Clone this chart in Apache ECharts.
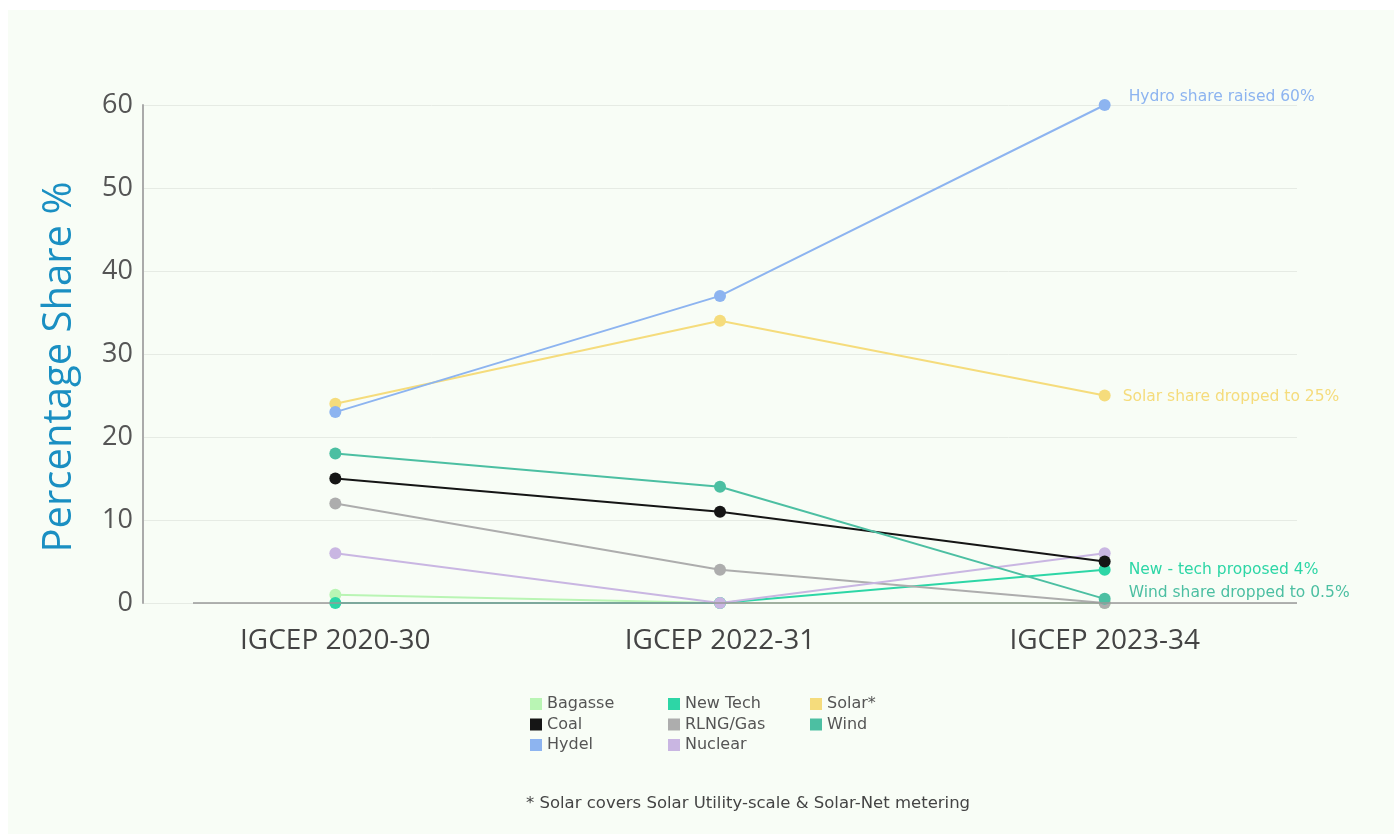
<!DOCTYPE html>
<html>
<head>
<meta charset="utf-8">
<script src="https://cdn.jsdelivr.net/npm/echarts@6/dist/echarts.min.js"></script>
<style>
html,body{margin:0;padding:0;background:#ffffff;}
#chart{width:1394px;height:834px;}
</style>
</head>
<body>
<div id="chart"></div>
<script>
const categories = ['IGCEP 2020-30', 'IGCEP 2022-31', 'IGCEP 2023-34'];
const bagasse = [1, 0, 0];
const coal = [15, 11, 5];
const hydel = [23, 37, 60];
const newTech = [0, 0, 4];
const rlng = [12, 4, 0];
const nuclear = [6, 0, 6];
const solar = [24, 34, 25];
const wind = [18, 14, 0.5];
const yTitle = 'Percentage Share %';
const footnote = '* Solar covers Solar Utility-scale & Solar-Net metering';
const colors = {
  'Bagasse':'#b9f5b4','Coal':'#151515','Hydel':'#8db4f0','New Tech':'#2dd6a6',
  'RLNG/Gas':'#adadad','Nuclear':'#c9b6e2','Solar*':'#f5dc7c','Wind':'#4cbfa2'
};
const endNotes = {
  'Hydel': {text:'Hydro share raised 60%', color:'#8db4f0', offset:[0,-8], distance:18},
  'Solar*': {text:'Solar share dropped to 25%', color:'#f5dc7c', offset:[0,1], distance:12},
  'New Tech': {text:'New - tech proposed 4%', color:'#2dd6a6', offset:[0,0], distance:18},
  'Wind': {text:'Wind share dropped to 0.5%', color:'#4cbfa2', offset:[0,-6], distance:18}
};
const values = {
  'Bagasse':bagasse,'Coal':coal,'Hydel':hydel,'New Tech':newTech,
  'RLNG/Gas':rlng,'Nuclear':nuclear,'Solar*':solar,'Wind':wind
};
const drawOrder = ['Bagasse','New Tech','RLNG/Gas','Nuclear','Coal','Wind','Solar*','Hydel'];

const chart = echarts.init(document.getElementById('chart'), null, {renderer:'canvas'});
const FONT = 'Open Sans';
const WIDE = 'DejaVu Sans';

const series = drawOrder.map(name => {
  const arr = values[name];
  const note = endNotes[name];
  const data = arr.map((v, i) => {
    if (note && i === arr.length - 1) {
      return {value: v, label: {show:true, position:'right', distance:note.distance, offset:note.offset,
        formatter: note.text, color: note.color, fontSize:15.5, fontFamily:WIDE}};
    }
    return v;
  });
  return {
    name, type:'line', data, symbol:'circle', symbolSize:12,
    lineStyle:{width:2, color:colors[name]},
    itemStyle:{color:colors[name]},
    emphasis:{disabled:true},
    animation:false
  };
});

function legendCol(names, left){
  return {
    data: names, orient:'vertical', left:left, top:691,
    itemWidth:12, itemHeight:12, itemGap:4.5, icon:'rect',
    textStyle:{fontSize:16, color:'#555', fontFamily:WIDE, padding:[0,0,0,0]},
    selectedMode:false
  };
}

chart.setOption({
  backgroundColor:'#ffffff',
  textStyle:{fontFamily:FONT},
  graphic:[
    {type:'rect', z:-10, shape:{x:8, y:10, width:1386, height:824}, style:{fill:'#f8fdf6'}},
    {type:'text', x:748, y:804, style:{text:footnote, align:'center', verticalAlign:'middle',
      fill:'#444', fontSize:16.5, fontFamily:WIDE}},
    {type:'text', x:60, y:367, rotation:Math.PI/2, style:{text:yTitle, align:'center', verticalAlign:'middle',
      fill:'#1a8fc2', fontSize:40, fontFamily:FONT}},
    {type:'line', z:5, shape:{x1:193, y1:603, x2:1297, y2:603}, style:{stroke:'#999', lineWidth:1.5}}
  ],
  legend:[
    legendCol(['Bagasse','Coal','Hydel'], 525),
    legendCol(['New Tech','RLNG/Gas','Nuclear'], 663),
    legendCol(['Solar*','Wind'], 805)
  ],
  grid:{left:143, right:97, top:105, bottom:231, containLabel:false},
  xAxis:{
    type:'category', data:categories, boundaryGap:true,
    axisLine:{show:false}, axisTick:{show:false},
    axisLabel:{fontSize:28, color:'#444', margin:24, fontFamily:FONT}
  },
  yAxis:{
    type:'value', min:0, max:60, interval:10,
    axisLine:{show:true, lineStyle:{color:'#aaa', width:2}},
    axisTick:{show:false},
    axisLabel:{fontSize:27, color:'#555', margin:10, fontFamily:FONT},
    splitLine:{show:true, lineStyle:{color:'#e6ebe4', width:1}}
  },
  series
});
</script>
</body>
</html>
